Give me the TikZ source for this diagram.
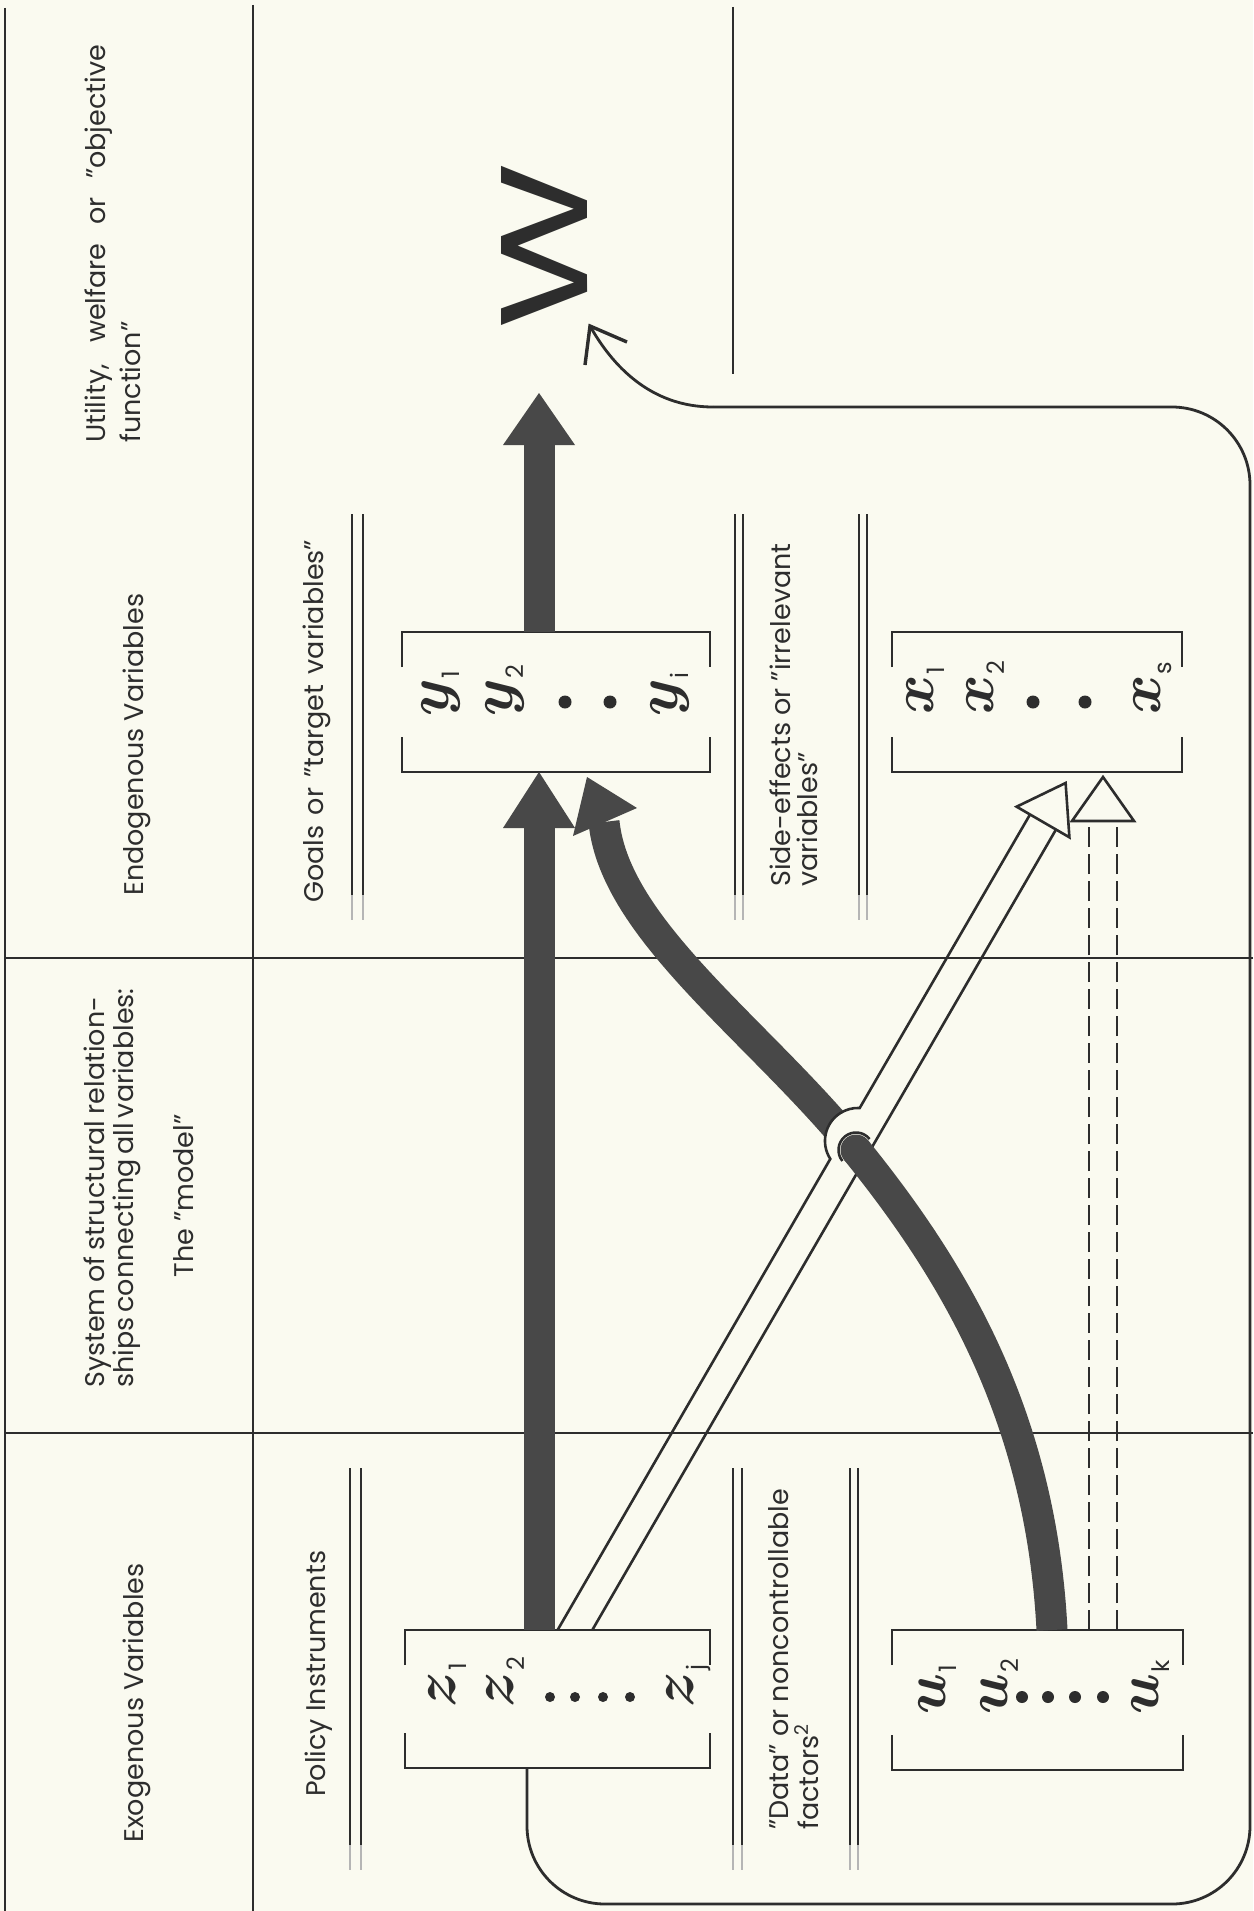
\documentclass[tikz,border=0pt]{standalone}
\usepackage{fontspec}
\setmainfont{Poppins}
\usepackage{graphicx}
\usepackage{bm}
\usetikzlibrary{calc}
\definecolor{paper}{RGB}{250,250,240}
\definecolor{ink}{RGB}{45,45,45}
\definecolor{bandc}{RGB}{72,72,72}
\tikzset{
  frameline/.style={draw=ink, line width=2.8pt},
  dbl/.style={draw=ink, line width=2pt},
  dblfade/.style={draw=ink!35, line width=2pt},
  lbl/.style={rotate=90, anchor=base west, inner sep=0pt, text=ink, font=\fontsize{27}{32}\selectfont},
  vecbox/.style={rectangle, inner sep=0pt, outer sep=0pt},
  var/.style={rotate=90, anchor=base west, inner sep=0pt, text=ink},
  thickband/.style={draw=bandc, line width=31pt, line cap=butt},
  hollowline/.style={draw=ink, line width=2.6pt, line join=miter},
  dashline/.style={draw=ink, line width=2.6pt, dash pattern=on 20pt off 7pt},
}
\newcommand\vsym[2]{\scalebox{2.9}{\fontsize{20.74}{24}\selectfont$\bm{#1}$}\kern1pt\raisebox{-11pt}{\fontsize{24}{24}\selectfont #2}}
\newcommand\bracketbox[1]{%
  \draw[frameline] ([yshift=-35pt]#1.north west) -- (#1.north west) -- (#1.north east) -- ([yshift=-35pt]#1.north east);
  \draw[frameline] ([yshift=35pt]#1.south west) -- (#1.south west) -- (#1.south east) -- ([yshift=35pt]#1.south east);}
\begin{document}
\begin{tikzpicture}[x=1pt,y=-1pt]
\path[use as bounding box, fill=paper] (0,0) rectangle (1253,1911);

% frame
\draw[frameline] (5,8) -- (5,1911);
\draw[frameline] (253,5) -- (253,1911);
\draw[frameline] (5,958) -- (1253,958);
\draw[frameline] (5,1433) -- (1253,1433);
\draw[frameline] (733,7) -- (733,374);

% double rules
\foreach \xa/\ya/\yb in {352/514/895, 363/514/895, 735/514/895, 743/514/895, 859/514/895, 867/514/895,
                         350/1468/1845, 361/1468/1845, 733/1468/1845, 742/1468/1845, 850/1468/1845, 858/1468/1845}{
  \draw[dbl] (\xa,\ya) -- (\xa,\yb);
  \draw[dblfade] (\xa,\yb) -- (\xa,\yb+25);
}

% labels
\node[lbl] (tUtil1) at (105,443) {\makebox[398pt][s]{Utility, welfare or ''objective}};
\node[lbl] (tUtil2) at (140,443) {function''};
\node[lbl] (tEndo) at (143,896) {Endogenous Variables};
\node[lbl] (tSys1) at (104,1388) {\makebox[391pt][s]{System of structural relation-}};
\node[lbl] (tSys2) at (133,1388) {\makebox[391pt][s]{ships connecting all variables:}};
\node[lbl, anchor=base] (tSys3) at (193,1196) {The ''model''};
\node[lbl] (tExo) at (143,1843) {Exogenous Variables};
\node[lbl] (tGoal) at (323,903) {\makebox[363pt][s]{Goals or ''target variables''}};
\node[lbl] (tSide1) at (790,887) {Side-effects or ''irrelevant};
\node[lbl] (tSide2) at (817,887) {variables''};
\node[lbl] (tPol) at (325,1797) {Policy Instruments};
\node[lbl] (tData1) at (788,1830) {''Data'' or noncontrollable};
\node[lbl] (tData2) at (818,1830) {factors\textsuperscript{2}};

% W
\node[rotate=90, inner sep=0pt, text=ink] (W) at (545,246) {\resizebox{167pt}{86pt}{W}};

% vector boxes
\node[vecbox, minimum width=305pt, minimum height=138pt] (zbox) at (557.5,1699) {};
\node[vecbox, minimum width=308pt, minimum height=140pt] (ybox) at (556,702) {};
\node[vecbox, minimum width=290pt, minimum height=140pt] (xbox) at (1037,702) {};
\node[vecbox, minimum width=291pt, minimum height=140pt] (ubox) at (1037.5,1700) {};
\bracketbox{zbox}
\bracketbox{ybox}
\bracketbox{xbox}
\bracketbox{ubox}

% contents
\node[var] (y1) at (448,717) {\vsym{y}{1}};
\node[var] (y2) at (512,717) {\vsym{y}{2}};
\node[var] (yi) at (677,717) {\vsym{y}{i}};
\fill[ink] (565,702) circle[radius=6.5] (610,702) circle[radius=6.5];
\node[var] (x1) at (933,715) {\vsym{x}{1}};
\node[var] (x2) at (993,715) {\vsym{x}{2}};
\node[var] (xs) at (1160,715) {\vsym{x}{s}};
\fill[ink] (1033,702) circle[radius=6.5] (1085,702) circle[radius=6.5];
\node[var] (z1) at (455,1708) {\vsym{z}{1}};
\node[var] (z2) at (513,1708) {\vsym{z}{2}};
\node[var] (zj) at (693,1708) {\vsym{z}{j}};
\fill[ink] (550,1697) circle[radius=5] (575,1697) circle[radius=5] (603,1697) circle[radius=5] (630,1697) circle[radius=5];
\node[var] (u1) at (945,1715) {\vsym{u}{1}};
\node[var] (u2) at (1007,1715) {\vsym{u}{2}};
\node[var] (uk) at (1158,1715) {\vsym{u}{k}};
\fill[ink] (1022,1697) circle[radius=6] (1048,1697) circle[radius=6] (1075,1697) circle[radius=6] (1103,1697) circle[radius=6];

% z -> y thick straight
\coordinate (zyS) at (zbox.north -| 539,0);
\coordinate (zyT) at (ybox.south -| 539,0);
\draw[thickband] (zyS) -- ($(zyT)+(0,55)$);
\fill[bandc] (zyT) -- ++(-36,56) -- ++(72,0) -- cycle;

% y -> W thick straight
\coordinate (yWS) at (ybox.north -| 539,0);
\coordinate (yWT) at (539,393);
\draw[thickband] (yWS) -- (539,444);
\fill[bandc] (yWT) -- ++(-36,52) -- ++(72,0) -- cycle;

% u -> y curved thick, upper part
\coordinate (uyS) at (ubox.north -| 1052,0);
\coordinate (cross) at (856,1150);
\coordinate (uyT) at (587,777);
\draw[thickband] (cross) .. controls (759,1030.5) and (615,930) .. (604,822);
\fill[bandc] (uyT) -- (573,836) -- (637,808) -- cycle;

% z -> x hollow arrow
\coordinate (zxS) at (zbox.north -| 575,0);
\coordinate (zxT) at (1065.6,783);
\fill[paper] (858,1141) circle[radius=33];
\draw[hollowline] (557.6,1630) -- (830.3,1158.9) arc[start angle=-213, end angle=-87, radius=33] -- (1030,814.5);
\draw[hollowline] (592.3,1630) -- (1056,829.5);
\draw[hollowline, fill=paper] (zxT) -- (1016.6,806.7) -- (1069.4,837.3) -- cycle;

% u -> y curved thick, lower part
\draw[thickband] (uyS) .. controls (1041,1415) and (953,1270) .. (cross);
\fill[bandc] (cross) circle[radius=15.5];
\draw[hollowline] ($(cross)+(-219:17.5)$) arc[start angle=-219, end angle=-39, radius=17.5];

% u -> x dashed hollow arrow
\coordinate (uxS1) at (ubox.north -| 1089,0);
\coordinate (uxS2) at (ubox.north -| 1117,0);
\coordinate (uxT) at (1103,777);
\draw[dashline] (uxS1) -- (1089,821);
\draw[dashline] (uxS2) -- (1117,821);
\draw[hollowline, fill=paper] (uxT) -- (1072,821) -- (1134,821) -- cycle;

% feedback loop z -> W
\coordinate (loopS) at (zbox.south -| 527,0);
\coordinate (loopT) at (590,326);
\draw[frameline, rounded corners=78pt] (loopS) -- (527,1904) -- (1250,1904) -- (1250,407) -- (713,407);
\draw[frameline] (713,407) .. controls (650,407) and (612,365) .. (loopT);
\draw[frameline, line width=3.4pt] (585,365) -- (loopT) -- (627,342);
\end{tikzpicture}
\end{document}
